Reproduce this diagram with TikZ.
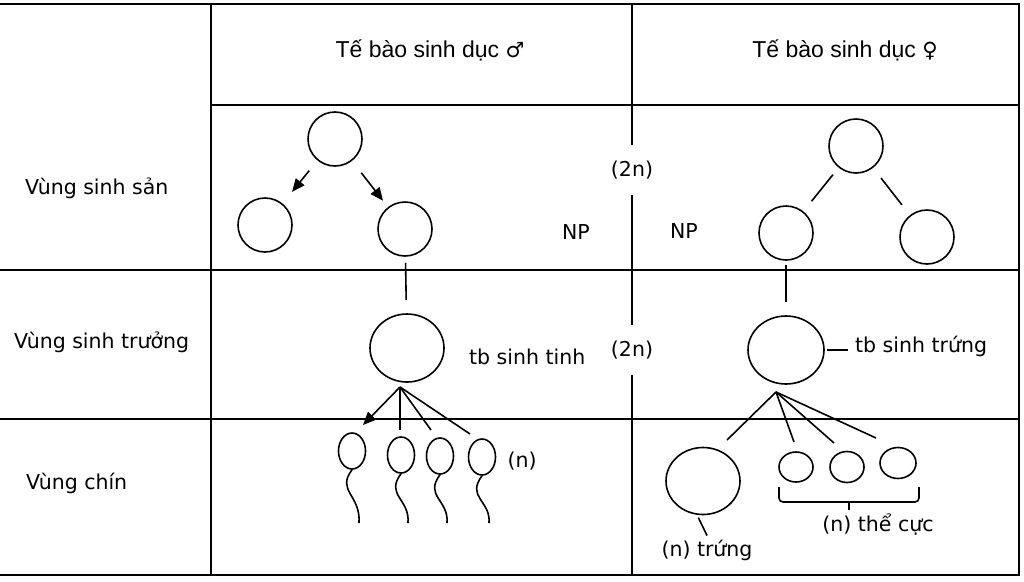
\documentclass[tikz,border=0pt]{standalone}
\usepackage{fontspec}
\setmainfont{DejaVu Sans}
\newfontfamily\headfont{Liberation Sans}
\newfontfamily\symfont{DejaVu Sans}
\usetikzlibrary{shapes.geometric,arrows.meta}

\begin{document}
\begin{tikzpicture}[x=1pt,y=-1pt,line width=1.6pt,
    font=\fontsize{20.5}{24}\selectfont,
    ball/.style={circle,draw,inner sep=0pt,minimum size=54pt},
    oval/.style={ellipse,draw,inner sep=0pt},
    twon/.style={fill=white,inner sep=2pt,minimum height=48pt},
    arr/.style={-{Triangle[length=13pt,width=11pt]}}]
      \useasboundingbox (0,0) rectangle (1024,581);
      % table
      \draw (0,4) -- (1019,4) -- (1019,575) -- (0,575);
      \draw (211,4) -- (211,575);
      \draw (211,105) -- (1019,105);
      \draw (0,270) -- (1019,270);
      \draw (0,419) -- (1019,419);

      \node (h1) at (430,50){\headfont\fontsize{23}{26}\selectfont Tế bào sinh dục {\symfont\fontsize{21}{24}\selectfont ♂}};
      \node (h2) at (845,50){\headfont\fontsize{23}{26}\selectfont Tế bào sinh dục {\symfont\fontsize{21}{24}\selectfont ♀}};

      \node[anchor=west] (r1) at (21,188){Vùng sinh sản};
      \node[anchor=west] (r2) at (10,342){Vùng sinh trưởng};
      \node[anchor=west] (r3) at (22,483){Vùng chín};

      \node[twon] (k1) at (632,170){(2n)};
      \node[twon] (k2) at (632,350){(2n)};
      \draw (632,4) -- (k1.north);
      \draw (k1.south) -- (k2.north);
      \draw (k2.south) -- (632,575);

      \node (np1) at (576,232){NP};
      \node (np2) at (684,231){NP};

      % male
      \node[ball] (m1) at (335,139){};
      \node[ball] (m2) at (265,225){};
      \node[ball] (m3) at (405,229){};
      \node[oval,minimum width=74pt,minimum height=68pt] (tinh) at (407,348){};
      \node[anchor=west] (lt) at (465,357){tb sinh tinh};

      \draw[arr,shorten <=13pt,shorten >=15pt] (m1) -- (m2);
      \draw[arr,shorten <=15pt,shorten >=8pt] (m1) -- (m3);
      \draw[shorten <=6pt,shorten >=13pt] (m3) -- (tinh);

      \foreach \s/\x/\y in {s1/352/451, s2/401/455, s3/440/456, s4/482/457}{
        \node[oval,minimum width=27pt,minimum height=36pt] (\s) at (\x,\y){};
        \draw (\s.south) .. controls (\x-16,\y+40) and (\x+9,\y+44) .. (\x+7,523);
      }
      \node (n1) at (522,461){(n)};

      \coordinate (a1) at (400,387);
      \coordinate (e1) at (363,425);
      \coordinate (e2) at (400,430);
      \coordinate (e3) at (431,430);
      \coordinate (e4) at (470,434);
      \draw[arr] (a1) -- (e1);
      \draw (a1) -- (e2);
      \draw (a1) -- (e3);
      \draw (a1) -- (e4);

      % female
      \node[ball] (f1) at (856,146){};
      \node[ball] (f2) at (786,233){};
      \node[ball] (f3) at (927,237){};
      \node[oval,minimum width=76pt,minimum height=68pt] (trung) at (786,350){};
      \node[anchor=west] (lg) at (851,346){tb sinh trứng};

      \draw[shorten <=9pt,shorten >=13pt] (f1) -- (f2);
      \draw[shorten <=13pt,shorten >=13pt] (f1) -- (f3);
      \draw[shorten <=4pt,shorten >=13pt] (f2) -- (trung);
      \draw[shorten <=2pt,shorten >=3pt] (trung.east) -- (trung.east -| lg.west);

      \node[oval,minimum width=74pt,minimum height=67pt] (egg) at (703,481){};
      \node[oval,minimum width=34pt,minimum height=30pt] (p1) at (796,467){};
      \node[oval,minimum width=34pt,minimum height=31pt] (p2) at (847,467){};
      \node[oval,minimum width=36pt,minimum height=31pt] (p3) at (898,463){};
      \node (le) at (707,550){(n) trứng};
      \node (lp) at (878,525){(n) thể cực};
      \draw[shorten <=3pt] (egg.-100) -- (le.north);

      \coordinate (a2) at (776,392);
      \coordinate (g1) at (727,440);
      \coordinate (g2) at (794,442);
      \coordinate (g3) at (834,443);
      \coordinate (g4) at (876,438);
      \draw (a2) -- (g1);
      \draw (a2) -- (g2);
      \draw (a2) -- (g3);
      \draw (a2) -- (g4);

      \draw[rounded corners=4pt] (779,487) -- (779,502) -- (919,502) -- (919,487);
      \draw (849,502) -- (849,510);
      %\draw[dashed] (egg) -- (p1);
    \end{tikzpicture}
\end{document}
